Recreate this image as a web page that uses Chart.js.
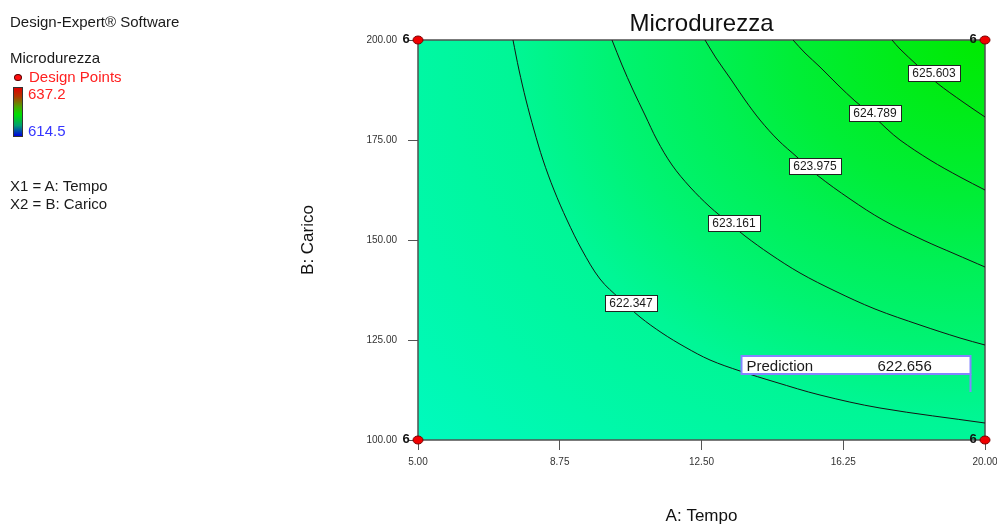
<!DOCTYPE html>
<html>
<head>
<meta charset="utf-8">
<title>Microdurezza</title>
<script src="https://cdn.jsdelivr.net/npm/chart.js@4.4.1/dist/chart.umd.min.js"></script>
<style>
  html, body { margin: 0; padding: 0; background: #ffffff; }
  #wrap { position: relative; width: 997px; height: 527px; overflow: hidden; }
  #chart { position: absolute; left: 0; top: 0; }
  .side { position: absolute; font-family: "Liberation Sans", Arial, sans-serif; font-size: 15px;
          line-height: 1; color: #1a1a1a; white-space: nowrap; }
  .dot { position: absolute; left: 14px; top: 74px; width: 6px; height: 5px; border-radius: 50%;
         background: #ff1010; border: 1px solid #600000; }
  .bar { position: absolute; left: 13px; top: 87px; width: 8px; height: 48px; border: 1px solid #333;
         background: linear-gradient(to bottom, #e00000 0%, #b03800 18%, #50a000 38%, #00e000 55%, #00a070 78%, #0000e0 100%); }
</style>
</head>
<body>
<div id="wrap">
  <canvas id="chart" width="997" height="527"></canvas>
  <div class="side" style="left:10px;top:14px">Design-Expert® Software</div>
  <div class="side" style="left:10px;top:50px">Microdurezza</div>
  <div class="dot"></div>
  <div class="side" style="left:29px;top:69px;color:#ff2020">Design Points</div>
  <div class="bar"></div>
  <div class="side" style="left:28px;top:86px;color:#ff2020">637.2</div>
  <div class="side" style="left:28px;top:123px;color:#3535ff">614.5</div>
  <div class="side" style="left:10px;top:178px">X1 = A: Tempo</div>
  <div class="side" style="left:10px;top:196px">X2 = B: Carico</div>
</div>
<script>
// Axis ticks (A: Tempo, B: Carico)
const xTicks = [5, 8.75, 12.5, 16.25, 20];
const yTicks = [100, 125, 150, 175, 200];

// Contour levels of Microdurezza and their traced paths [Tempo, Carico]
const contourLevels = [622.347, 623.161, 623.975, 624.789, 625.603];
const contour622347 = [
  [7.513, 200], [7.672, 192.5], [7.857, 185], [8.069, 177.5], [8.307, 170], [8.598, 162.5],
  [8.942, 155], [9.339, 147.5], [9.815, 140.25], [10.344, 135.25], [10.873, 130.75],
  [11.455, 126.75], [12.063, 123.25], [12.725, 120], [13.519, 117.25], [14.444, 114.5],
  [15.635, 111.25], [17.222, 108], [20, 104.25]
];
const contour623161 = [
  [10.132, 200], [10.397, 193.75], [10.688, 187.5], [11.005, 181.25], [11.323, 175],
  [11.72, 168.75], [12.196, 163.25], [12.725, 158.25], [13.201, 154.5], [13.651, 151],
  [14.312, 146.5], [15.106, 141.75], [16.032, 137.25], [17.09, 132.75], [18.28, 128.75],
  [19.339, 125.5], [20, 123.75]
];
const contour623975 = [
  [12.593, 200], [12.884, 195.5], [13.254, 190.5], [13.651, 185], [14.048, 180], [14.524, 175],
  [15.026, 170.75], [15.556, 166.25], [16.429, 160.25], [17.302, 155], [18.36, 150],
  [19.206, 146.5], [20, 143.25]
];
const contour624789 = [
  [14.921, 200], [15.238, 196.75], [15.635, 193.25], [16.111, 188.75], [16.561, 184.75],
  [17.011, 181.25], [17.407, 177.75], [17.751, 175], [18.545, 170], [19.339, 165.75], [20, 162.5]
];
const contour625603 = [
  [17.54, 200], [17.751, 197.75], [18.201, 193.75], [18.73, 189.25], [19.418, 184.5], [20, 180.75]
];
const contourPaths = [contour622347, contour623161, contour623975, contour624789, contour625603];

// Where each contour value is printed [Tempo, Carico]
const contourLabelX = [10.635, 13.36, 15.5, 17.09, 18.65];
const contourLabelY = [134.25, 154.25, 168.5, 181.75, 191.75];

// Design points and replicate counts
const designX = [5, 5, 20, 20];
const designY = [100, 200, 100, 200];
const designCount = [6, 6, 6, 6];

// Prediction flag
const predictionX = 19.6;
const predictionY = 112;
const predictionValue = 622.656;

const FONT = '"Liberation Sans", Arial, sans-serif';

// Red elliptical marker for design points
const marker = document.createElement('canvas');
marker.width = 12; marker.height = 10;
(function () {
  const c = marker.getContext('2d');
  c.beginPath();
  c.ellipse(6, 5, 5, 4, 0, 0, Math.PI * 2);
  c.fillStyle = '#f00000';
  c.fill();
  c.lineWidth = 1;
  c.strokeStyle = '#7a0000';
  c.stroke();
})();

// Response surface shading and plot frame
const surfacePlugin = {
  id: 'surface',
  beforeDatasetsDraw(chart) {
    const { ctx, chartArea: a } = chart;
    const w = a.right - a.left, h = a.bottom - a.top;
    const sy = 0.81;
    const R = Math.hypot(w, h / sy);
    ctx.save();
    ctx.beginPath();
    ctx.rect(a.left, a.top, w, h);
    ctx.clip();
    ctx.translate(a.right, a.top);
    ctx.scale(1, sy);
    const g = ctx.createRadialGradient(0, 0, 0, 0, 0, R);
    g.addColorStop(0.00, 'rgb(0,234,0)');
    g.addColorStop(0.124, 'rgb(0,236,25)');
    g.addColorStop(0.26, 'rgb(0,238,55)');
    g.addColorStop(0.37, 'rgb(0,240,85)');
    g.addColorStop(0.50, 'rgb(0,243,115)');
    g.addColorStop(0.63, 'rgb(0,246,150)');
    g.addColorStop(1.00, 'rgb(0,250,190)');
    ctx.fillStyle = g;
    ctx.fillRect(-w, 0, w, h / sy + 1);
    ctx.restore();

    ctx.save();
    ctx.strokeStyle = '#505050';
    ctx.lineWidth = 1.5;
    ctx.strokeRect(a.left, a.top, w, h);
    ctx.restore();
  }
};

// Contour values, replicate counts and the prediction flag
const annotationPlugin = {
  id: 'annotations',
  afterDatasetsDraw(chart) {
    const { ctx, scales: { x, y } } = chart;
    ctx.save();
    ctx.font = '12px ' + FONT;
    ctx.textBaseline = 'middle';
    ctx.textAlign = 'center';
    contourLevels.forEach((lvl, i) => {
      const px = x.getPixelForValue(contourLabelX[i]);
      const py = y.getPixelForValue(contourLabelY[i]);
      const txt = lvl.toFixed(3);
      const tw = ctx.measureText(txt).width;
      const bw = Math.round(tw + 9), bh = 16;
      const bx = Math.round(px - bw / 2) + 0.5, by = Math.round(py - bh / 2) + 0.5;
      ctx.fillStyle = '#ffffff';
      ctx.fillRect(bx, by, bw, bh);
      ctx.strokeStyle = '#222222';
      ctx.lineWidth = 1;
      ctx.strokeRect(bx, by, bw, bh);
      ctx.fillStyle = '#1a1a1a';
      ctx.fillText(txt, px, py + 1);
    });

    // replicate counts beside the design points
    ctx.font = 'bold 13px ' + FONT;
    ctx.fillStyle = '#111111';
    designX.forEach((dx, i) => {
      const px = x.getPixelForValue(dx);
      const py = y.getPixelForValue(designY[i]);
      ctx.fillText(String(designCount[i]), px - 12, py - 1);
    });

    // prediction flag
    const fx = Math.round(x.getPixelForValue(predictionX)) + 0.5;
    const fy = Math.round(y.getPixelForValue(predictionY));
    const boxR = fx, boxL = fx - 229, boxB = fy - 18, boxT = boxB - 18;
    ctx.fillStyle = '#ffffff';
    ctx.fillRect(boxL, boxT, boxR - boxL, boxB - boxT);
    ctx.strokeStyle = '#8484ff';
    ctx.lineWidth = 2;
    ctx.strokeRect(boxL, boxT, boxR - boxL, boxB - boxT);
    ctx.beginPath();
    ctx.moveTo(fx, boxB);
    ctx.lineTo(fx, fy);
    ctx.stroke();
    ctx.font = '15px ' + FONT;
    ctx.fillStyle = '#1a1a1a';
    ctx.textAlign = 'left';
    ctx.textBaseline = 'alphabetic';
    ctx.fillText('Prediction', boxL + 5, boxB - 3);
    ctx.fillText(predictionValue.toFixed(3), boxL + 136, boxB - 3);
    ctx.restore();
  }
};

const contourDatasets = contourPaths.map((path, i) => ({
  label: contourLevels[i].toFixed(3),
  data: path.map(p => ({ x: p[0], y: p[1] })),
  showLine: true,
  pointRadius: 0,
  pointHoverRadius: 0,
  borderColor: '#141414',
  borderWidth: 1,
  tension: 0.35,
  fill: false
}));

const designDataset = {
  label: 'Design Points',
  data: designX.map((v, i) => ({ x: v, y: designY[i] })),
  pointStyle: marker,
  pointRadius: 5,
  showLine: false,
  clip: false
};

new Chart(document.getElementById('chart'), {
  type: 'scatter',
  data: { datasets: [...contourDatasets, designDataset] },
  options: {
    responsive: false,
    animation: false,
    events: [],
    layout: { padding: { left: 0, right: 12, top: 0, bottom: 0 } },
    plugins: {
      legend: { display: false },
      tooltip: { enabled: false },
      title: {
        display: true,
        text: 'Microdurezza',
        fullSize: false,
        color: '#111111',
        font: { family: FONT, size: 24, weight: 'normal', lineHeight: 1 },
        padding: { top: 12, bottom: 4 }
      }
    },
    scales: {
      x: {
        type: 'linear',
        min: xTicks[0],
        max: xTicks[xTicks.length - 1],
        afterBuildTicks: s => { s.ticks = xTicks.map(v => ({ value: v })); },
        afterFit: s => { s.height = 87; s.paddingLeft = 0; s.paddingRight = 0; },
        border: { display: false },
        grid: { drawOnChartArea: false, drawTicks: true, tickLength: 10, color: '#555555' },
        ticks: {
          padding: 6,
          color: '#333333',
          font: { family: FONT, size: 10 },
          maxRotation: 0,
          callback: v => Number(v).toFixed(2)
        },
        title: {
          display: true,
          text: 'A: Tempo',
          color: '#111111',
          font: { family: FONT, size: 17 },
          padding: { top: 0, bottom: 0 }
        }
      },
      y: {
        type: 'linear',
        min: yTicks[0],
        max: yTicks[yTicks.length - 1],
        afterBuildTicks: s => { s.ticks = yTicks.map(v => ({ value: v })); },
        afterFit: s => { s.width = 418; s.paddingTop = 0; s.paddingBottom = 0; },
        border: { display: false },
        grid: { drawOnChartArea: false, drawTicks: true, tickLength: 10, color: '#555555' },
        ticks: {
          padding: 11,
          color: '#333333',
          font: { family: FONT, size: 10 },
          callback: v => Number(v).toFixed(2)
        },
        title: {
          display: true,
          text: 'B: Carico',
          color: '#111111',
          font: { family: FONT, size: 17 },
          padding: { top: 298, bottom: 0 }
        }
      }
    }
  },
  plugins: [surfacePlugin, annotationPlugin]
});
</script>
</body>
</html>
